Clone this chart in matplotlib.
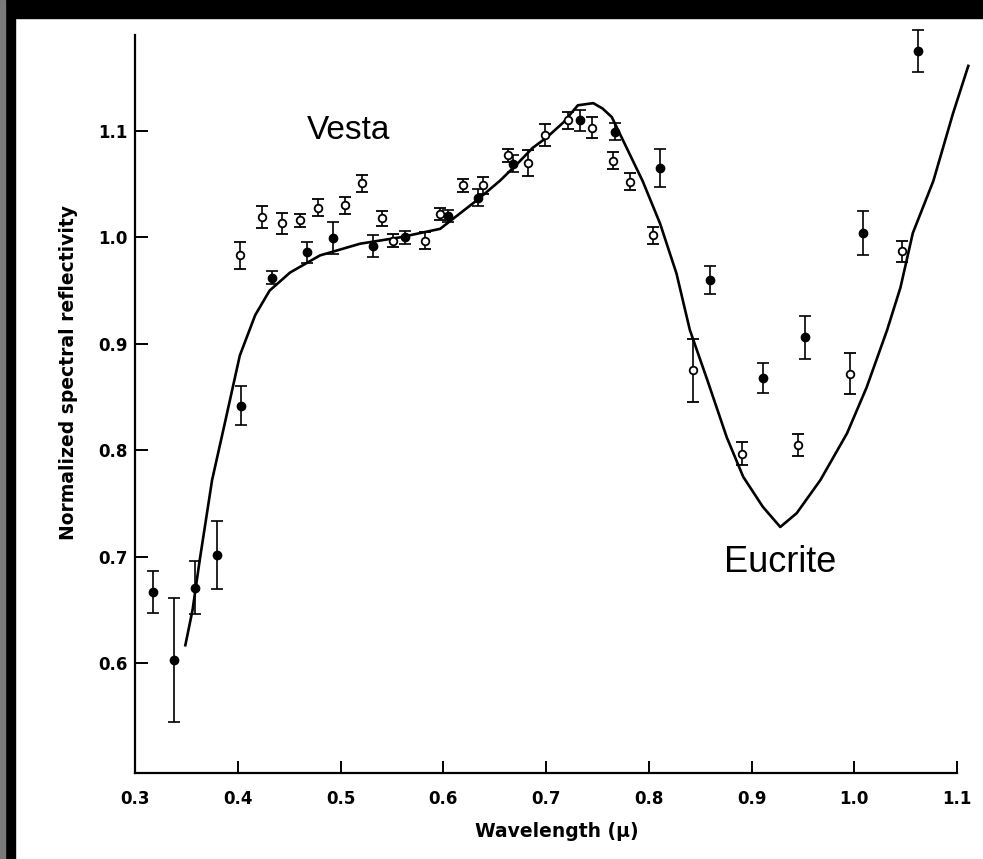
import numpy as np
import matplotlib
matplotlib.use("Agg")
import matplotlib.pyplot as plt
from matplotlib.patches import Rectangle

# eucrite lab spectrum (solid curve)
curve_x = [0.349, 0.356, 0.363, 0.375, 0.388, 0.402, 0.417, 0.431, 0.451, 0.480,
           0.519, 0.558, 0.597, 0.633, 0.655, 0.672, 0.687, 0.701, 0.717, 0.731,
           0.746, 0.755, 0.764, 0.775, 0.794, 0.811, 0.827, 0.840, 0.857, 0.876,
           0.892, 0.911, 0.928, 0.944, 0.967, 0.993, 1.012, 1.032, 1.045, 1.057,
           1.077, 1.096, 1.111]
curve_y = [0.617, 0.650, 0.697, 0.772, 0.828, 0.889, 0.927, 0.950, 0.967, 0.983,
           0.994, 1.000, 1.008, 1.035, 1.053, 1.069, 1.084, 1.094, 1.108, 1.124,
           1.126, 1.121, 1.113, 1.091, 1.053, 1.013, 0.966, 0.913, 0.866, 0.812,
           0.775, 0.747, 0.728, 0.741, 0.772, 0.816, 0.859, 0.913, 0.953, 1.004,
           1.053, 1.116, 1.161]

# Vesta measurements, filled symbols
filled_x = [0.318, 0.338, 0.358, 0.380, 0.403, 0.433, 0.467, 0.493, 0.532, 0.563,
            0.605, 0.634, 0.668, 0.733, 0.767, 0.811, 0.860, 0.911, 0.952, 1.009, 1.062]
filled_y = [0.667, 0.603, 0.671, 0.702, 0.842, 0.962, 0.986, 0.999, 0.992, 1.000,
            1.020, 1.037, 1.069, 1.110, 1.099, 1.065, 0.960, 0.868, 0.906, 1.004, 1.175]
filled_err = [0.020, 0.058, 0.025, 0.032, 0.018, 0.006, 0.010, 0.015, 0.010, 0.006,
              0.006, 0.008, 0.008, 0.010, 0.008, 0.018, 0.013, 0.014, 0.020, 0.021, 0.020]

# Vesta measurements, open symbols
open_x = [0.402, 0.424, 0.443, 0.461, 0.478, 0.504, 0.521, 0.540, 0.551, 0.582,
          0.597, 0.619, 0.639, 0.663, 0.682, 0.699, 0.721, 0.745, 0.765, 0.782,
          0.804, 0.843, 0.891, 0.945, 0.996, 1.046]
open_y = [0.983, 1.019, 1.013, 1.016, 1.028, 1.030, 1.051, 1.018, 0.997, 0.997,
          1.022, 1.049, 1.049, 1.077, 1.070, 1.096, 1.110, 1.103, 1.072, 1.052,
          1.002, 0.875, 0.797, 0.805, 0.872, 0.987]
open_err = [0.013, 0.010, 0.010, 0.006, 0.008, 0.008, 0.008, 0.007, 0.006, 0.008,
            0.006, 0.006, 0.008, 0.006, 0.012, 0.010, 0.008, 0.010, 0.008, 0.008,
            0.008, 0.030, 0.011, 0.010, 0.019, 0.010]

xticks = [0.3, 0.4, 0.5, 0.6, 0.7, 0.8, 0.9, 1.0, 1.1]
xticklabels = ["0.3", "0.4", "0.5", "0.6", "0.7", "0.8", "0.9", "1.0", "1.1"]
yticks = [0.6, 0.7, 0.8, 0.9, 1.0, 1.1]
yticklabels = ["0.6", "0.7", "0.8", "0.9", "1.0", "1.1"]

fig = plt.figure(figsize=(9.83, 8.59), dpi=100, facecolor="white")

# scanned page edges
fig.patches.append(Rectangle((0, 1 - 18 / 859), 1, 18 / 859, transform=fig.transFigure,
                             color="black", zorder=0))
fig.patches.append(Rectangle((0, 0), 15 / 983, 1, transform=fig.transFigure,
                             color="black", zorder=0))
fig.patches.append(Rectangle((0, 0), 5 / 983, 1, transform=fig.transFigure,
                             color="#7a7a7a", zorder=0))

ax = fig.add_axes([135 / 983, 86 / 859, 822 / 983, 738 / 859])

ax.plot(curve_x, curve_y, color="black", lw=1.9, zorder=2, clip_on=False)

ax.errorbar(filled_x, filled_y, yerr=filled_err, fmt="o", color="black", ms=6,
            elinewidth=1.2, capsize=4, capthick=1.2, zorder=3, clip_on=False)
ax.errorbar(open_x, open_y, yerr=open_err, fmt="o", color="black", mfc="white",
            mec="black", mew=1.3, ms=5.5, elinewidth=1.2, capsize=4, capthick=1.2,
            zorder=3, clip_on=False)

ax.text(0.508, 1.100, "Vesta", fontsize=24, family="Liberation Sans",
        ha="center", va="center")
ax.text(0.928, 0.695, "Eucrite", fontsize=26, family="Liberation Sans",
        ha="center", va="center")

ax.set_xlim(0.3, 1.1)
ax.set_ylim(0.497, 1.19)
ax.set_xticks(xticks)
ax.set_xticklabels(xticklabels)
ax.set_yticks(yticks)
ax.set_yticklabels(yticklabels)

for s in ["top", "right"]:
    ax.spines[s].set_visible(False)
for s in ["left", "bottom"]:
    ax.spines[s].set_linewidth(1.6)

ax.tick_params(axis="both", direction="in", length=9, width=1.4, labelsize=12)
ax.tick_params(axis="x", pad=12)
ax.tick_params(axis="y", pad=5)
for lab in ax.get_xticklabels() + ax.get_yticklabels():
    lab.set_fontweight("bold")

ax.set_xlabel("Wavelength (\u03bc)", fontsize=13.5, fontweight="bold")
ax.xaxis.set_label_coords(0.513, -0.066)
ax.set_ylabel("Normalized spectral reflectivity", fontsize=13.5, fontweight="bold")
ax.yaxis.set_label_coords(-0.069, 0.543)

fig.savefig("out.png", dpi=100)
